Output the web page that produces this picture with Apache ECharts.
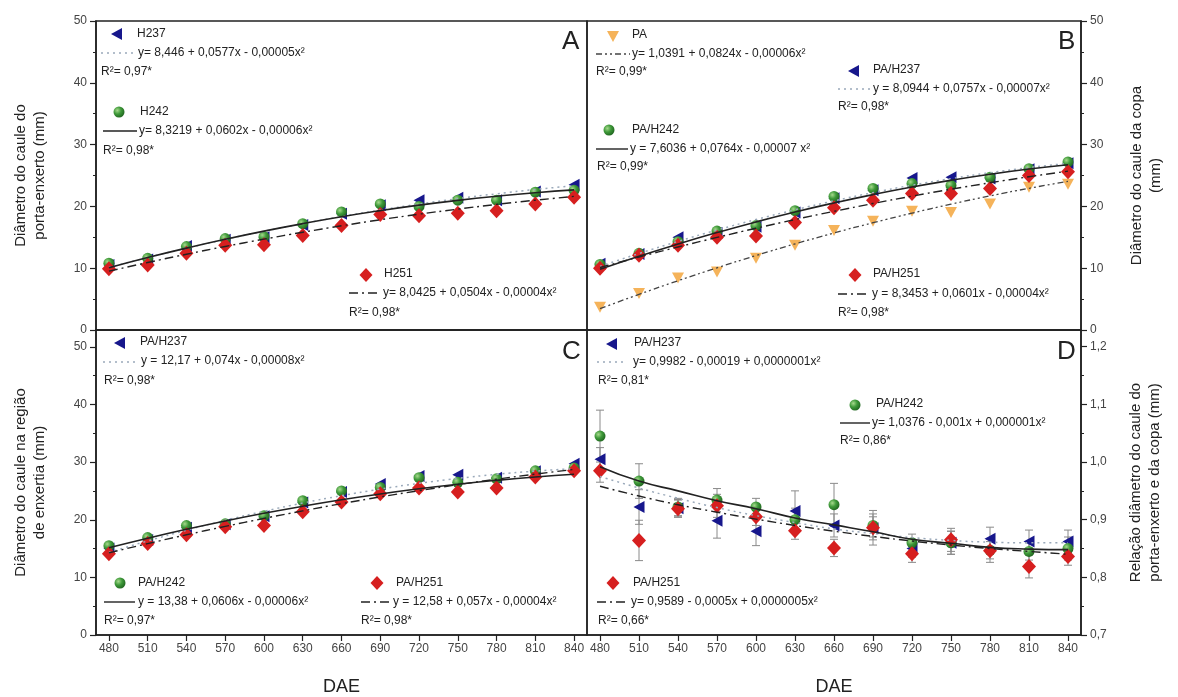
<!DOCTYPE html>
<html><head><meta charset="utf-8">
<script src="https://cdn.jsdelivr.net/npm/echarts@6/dist/echarts.min.js"></script>
<style>html,body{margin:0;padding:0;background:#fff}#c{width:1178px;height:697px}</style>
</head><body><div id="c"></div>
<script>
// ---------- data ----------
const dae = [480,510,540,570,600,630,660,690,720,750,780,810,840];

// Panel A (porta-enxerto)
const aH237 = [10.5,11.4,13.6,14.6,15.0,17.0,18.8,20.2,21.0,21.4,21.0,22.4,23.5];
const aH242 = [10.8,11.6,13.5,14.8,15.1,17.2,19.1,20.4,20.0,21.0,21.0,22.3,22.6];
const aH251 = [9.9,10.5,12.4,13.7,13.8,15.3,16.9,18.7,18.5,18.9,19.3,20.4,21.5];
const aFit237 = [10.13,11.73,13.23,14.65,15.98,17.21,18.36,19.41,20.38,21.26,22.04,22.74,23.34];
const aFit242 = [10.07,11.72,13.25,14.68,16.00,17.21,18.32,19.31,20.20,20.98,21.65,22.22,22.67];
const aFit251 = [9.52,10.92,12.26,13.52,14.70,15.82,16.86,17.84,18.74,19.56,20.32,21.00,21.62];

// Panel B (copa)
const bPA    = [3.7,5.9,8.4,9.4,11.6,13.7,16.1,17.6,19.2,19.0,20.4,23.1,23.6];
const bH237  = [10.7,12.3,15.0,15.7,16.7,19.0,21.3,22.6,24.6,24.7,24.5,26.0,27.0];
const bH242  = [10.6,12.4,14.3,16.0,16.9,19.3,21.6,22.9,23.7,23.4,24.7,26.1,27.2];
const bH251  = [10.0,12.1,13.7,15.0,15.2,17.4,19.8,21.0,22.1,22.1,22.9,25.0,25.6];
const bFitPA  = [3.46,5.77,7.97,10.06,12.05,13.93,15.70,17.36,18.91,20.36,21.70,22.93,24.05];
const bFit237 = [10.30,12.38,14.34,16.17,17.87,19.45,20.90,22.23,23.43,24.50,25.45,26.27,26.97];
const bFit242 = [9.83,11.94,13.91,15.76,17.49,19.09,20.56,21.91,23.13,24.22,25.19,26.04,26.75];
const bFit251 = [10.11,11.81,13.43,14.98,16.46,17.87,19.20,20.47,21.66,22.78,23.82,24.80,25.70];

// Panel C (região de enxertia)
const cH237 = [15.0,16.5,18.6,19.2,20.6,23.0,24.8,26.2,27.6,27.8,27.3,28.4,29.7];
const cH242 = [15.5,16.9,19.0,19.3,20.7,23.3,25.0,25.6,27.3,26.5,27.1,28.5,29.0];
const cH251 = [14.1,15.9,17.4,18.8,19.0,21.4,23.1,24.5,25.5,24.8,25.5,27.4,28.5];
const cFit237 = [14.32,16.32,18.18,19.90,21.47,22.90,24.18,25.32,26.32,27.17,27.88,28.44,28.86];
const cFit242 = [15.14,16.80,18.35,19.79,21.12,22.34,23.46,24.47,25.37,26.16,26.84,27.42,27.89];
const cFit251 = [14.25,15.86,17.39,18.84,20.23,21.54,22.79,23.96,25.05,26.08,27.03,27.92,28.73];

// Panel D (relação)
const dH237 = [1.005,0.922,0.920,0.898,0.880,0.915,0.890,0.885,0.850,0.860,0.867,0.862,0.862];
const dH242 = [1.045,0.967,0.922,0.934,0.922,0.900,0.926,0.890,0.860,0.860,0.847,0.845,0.850];
const dH251 = [0.985,0.864,0.919,0.924,0.905,0.881,0.851,0.886,0.841,0.865,0.846,0.819,0.836];
const dErr237 = [0.020,0.030,0.015,0.030,0.025,0.035,0.020,0.020,0.015,0.020,0.020,0.020,0.020];
const dErr242 = [0.045,0.030,0.015,0.020,0.015,0.020,0.037,0.020,0.015,0.020,0.015,0.015,0.020];
const dErr251 = [0.020,0.035,0.015,0.020,0.015,0.015,0.015,0.030,0.015,0.020,0.020,0.020,0.015];
const dFit237 = [0.975,0.955,0.937,0.921,0.907,0.895,0.884,0.876,0.869,0.864,0.861,0.860,0.860];
const dFit242 = [0.992,0.967,0.950,0.933,0.919,0.903,0.891,0.879,0.866,0.859,0.852,0.849,0.848];
const dFit251 = [0.958,0.941,0.926,0.913,0.901,0.890,0.880,0.871,0.863,0.856,0.850,0.845,0.840];

const yTicksMM = [0,10,20,30,40,50];
const yMinorMM = [5,15,25,35,45];
const yTicksR = [0.7,0.8,0.9,1.0,1.1,1.2];
const yMinorR = [0.75,0.85,0.95,1.05,1.15];

// ---------- styles ----------
const FONT = '"Liberation Sans", Arial, sans-serif';
const INK = '#222';
const C_BLUE = '#17178c', C_RED = '#d61f1f', C_ORANGE = '#f5b35a';
const greenFill = new echarts.graphic.RadialGradient(0.35,0.35,0.75,[
  {offset:0,color:'#a6d98c'},{offset:0.45,color:'#3f9a3a'},{offset:1,color:'#1b5e1b'}]);
const DOT = [2,4], DASHDOT = [9,4,2,4], DASHDOTDOT = [6,3,2,3,2,3];
const C_DOTLINE = '#9aa9ba';

const pts = a => dae.map((d,i)=>[d,a[i]]);
const ptsE = (a,e) => dae.map((d,i)=>[d,a[i],e[i]]);

const mk = {
  blue:   {symbol:'triangle', symbolRotate:90, symbolSize:[12,11], itemStyle:{color:C_BLUE, opacity:1}},
  green:  {symbol:'circle', symbolSize:11, itemStyle:{color:greenFill, opacity:1}},
  red:    {symbol:'diamond', symbolSize:[14,15], itemStyle:{color:C_RED, opacity:1}},
  orange: {symbol:'triangle', symbolRotate:180, symbolSize:[12,11], itemStyle:{color:C_ORANGE, opacity:1}}
};
function scat(g, y, data, m){
  return Object.assign({type:'scatter', xAxisIndex:g, yAxisIndex:y, data:pts(data), z:3, silent:true}, m);
}
function fit(g, y, data, color, type, width){
  return {type:'line', xAxisIndex:g, yAxisIndex:y, data:pts(data), smooth:true, showSymbol:false, z:4, silent:true,
    lineStyle:{color:color, width:width||1.4, type:type}};
}
function errs(g, y, data, e){
  return {type:'custom', xAxisIndex:g, yAxisIndex:y, data:ptsE(data,e), z:2, silent:true,
    renderItem:function(params, api){
      const x=api.value(0), v=api.value(1), er=api.value(2);
      const t=api.coord([x,v+er]), b=api.coord([x,v-er]);
      const st={stroke:'#8a8a8a', lineWidth:1};
      return {type:'group', children:[
        {type:'line', shape:{x1:t[0],y1:t[1],x2:b[0],y2:b[1]}, style:st},
        {type:'line', shape:{x1:t[0]-4,y1:t[1],x2:t[0]+4,y2:t[1]}, style:st},
        {type:'line', shape:{x1:b[0]-4,y1:b[1],x2:b[0]+4,y2:b[1]}, style:st}
      ]};
    }};
}

// ---------- axes ----------
const grids = [
  {left:96, top:21, width:491, height:309},
  {left:587, top:21, width:494, height:309},
  {left:96, top:330, width:491, height:307},
  {left:587, top:330, width:494, height:307}
].map(g=>Object.assign(g,{show:true, borderColor:INK, borderWidth:1.5, containLabel:false}));

function xAx(i, labels){
  return {gridIndex:i, type:'value', min:470, max:850, splitLine:{show:false},
    axisLine:{show:true, onZero:false, lineStyle:{color:INK, width:1.6}},
    axisTick:{show:labels, customValues:dae, inside:false, length:6, lineStyle:{color:INK, width:1.2}},
    axisLabel:{show:labels, customValues:dae, color:'#444', fontSize:12, fontFamily:FONT, margin:8},
    name: labels ? 'DAE' : '', nameLocation:'middle', nameGap:43,
    nameTextStyle:{fontSize:18, color:INK, fontFamily:FONT}};
}
const nameStyle = {fontSize:15, color:INK, fontFamily:FONT, lineHeight:19};
const yAxes = [
  {gridIndex:0, type:'value', min:0, max:50, interval:10, position:'left',
   axisLine:{show:true, onZero:false, lineStyle:{color:INK, width:1.6}},
   axisTick:{show:true, length:6, lineStyle:{color:INK, width:1.2}},
   minorTick:{show:true, splitNumber:2, length:3, lineStyle:{color:INK}},
   axisLabel:{color:'#444', fontSize:12, fontFamily:FONT, margin:9},
   splitLine:{show:false},
   name:'Diâmetro do caule do\nporta-enxerto (mm)', nameLocation:'middle', nameGap:47, nameRotate:90, nameTextStyle:nameStyle},
  {gridIndex:1, type:'value', min:0, max:50, interval:10, position:'right',
   axisLine:{show:true, onZero:false, lineStyle:{color:INK, width:1.6}},
   axisTick:{show:true, length:6, lineStyle:{color:INK, width:1.2}},
   minorTick:{show:true, splitNumber:2, length:3, lineStyle:{color:INK}},
   axisLabel:{color:'#444', fontSize:12, fontFamily:FONT, margin:9},
   splitLine:{show:false},
   name:'Diâmetro do caule da copa\n(mm)', nameLocation:'middle', nameGap:46, nameRotate:90, nameTextStyle:nameStyle},
  {gridIndex:2, type:'value', min:0, max:52.93, position:'left',
   axisLine:{show:true, onZero:false, lineStyle:{color:INK, width:1.6}},
   axisTick:{show:true, customValues:yTicksMM, length:6, lineStyle:{color:INK, width:1.2}},
   axisLabel:{customValues:yTicksMM, color:'#444', fontSize:12, fontFamily:FONT, margin:9},
   splitLine:{show:false},
   name:'Diâmetro do caule na região\nde enxertia (mm)', nameLocation:'middle', nameGap:47, nameRotate:90, nameTextStyle:nameStyle},
  {gridIndex:2, type:'value', min:0, max:52.93, position:'left',
   axisLine:{show:false}, axisLabel:{show:false}, splitLine:{show:false},
   axisTick:{show:true, customValues:yMinorMM, length:3, lineStyle:{color:INK}}},
  {gridIndex:3, type:'value', min:0.7, max:1.229, position:'right',
   axisLine:{show:true, onZero:false, lineStyle:{color:INK, width:1.6}},
   axisTick:{show:true, customValues:yTicksR, length:6, lineStyle:{color:INK, width:1.2}},
   axisLabel:{customValues:yTicksR, color:'#444', fontSize:12, fontFamily:FONT, margin:9,
     formatter:v=>v.toFixed(1).replace('.',',')},
   splitLine:{show:false},
   name:'Relação diâmetro do caule do\nporta-enxerto e da copa (mm)', nameLocation:'middle', nameGap:45, nameRotate:90, nameTextStyle:nameStyle},
  {gridIndex:3, type:'value', min:0.7, max:1.229, position:'right',
   axisLine:{show:false}, axisLabel:{show:false}, splitLine:{show:false},
   axisTick:{show:true, customValues:yMinorR, length:3, lineStyle:{color:INK}}}
];

// ---------- legend / annotation graphics ----------
const G = [];
function T(x,y,s,size){ G.push({type:'text', x:x, y:y, silent:true, style:{text:s, fill:INK, fontSize:size||12, fontFamily:FONT,
  align:'left', verticalAlign:'middle', textAlign:'left', textVerticalAlign:'middle'}}); }
function L(x1,x2,y,color,dash,w){ G.push({type:'line', silent:true, shape:{x1:x1,y1:y,x2:x2,y2:y}, style:{stroke:color, lineWidth:w||1.4, lineDash:dash||null}}); }
function triL(cx,cy){ G.push({type:'polygon', silent:true, shape:{points:[[cx-6,cy],[cx+5,cy-6],[cx+5,cy+6]]}, style:{fill:C_BLUE}}); }
function triD(cx,cy){ G.push({type:'polygon', silent:true, shape:{points:[[cx-6,cy-5],[cx+6,cy-5],[cx,cy+6]]}, style:{fill:C_ORANGE}}); }
function dia(cx,cy){ G.push({type:'polygon', silent:true, shape:{points:[[cx,cy-7],[cx+6.5,cy],[cx,cy+7],[cx-6.5,cy]]}, style:{fill:C_RED}}); }
function circ(cx,cy){ G.push({type:'circle', silent:true, shape:{cx:cx,cy:cy,r:5.5}, style:{fill:greenFill}}); }

// Panel A
triL(117,34); T(137,34,'H237');
L(101,135,53,C_DOTLINE,DOT); T(138,53,'y= 8,446 + 0,0577x - 0,00005x²');
T(101,72,'R²= 0,97*');
circ(119,112); T(140,112,'H242');
L(103,137,131,INK,null); T(139,131,'y= 8,3219 + 0,0602x - 0,00006x²');
T(103,151,'R²= 0,98*');
dia(366,275); T(384,274,'H251');
L(349,381,293,INK,DASHDOT); T(383,293,'y= 8,0425 + 0,0504x - 0,00004x²');
T(349,313,'R²= 0,98*');
T(562,42,'A',26);

// Panel B
triD(613,36); T(632,35,'PA');
L(596,630,54,'#444',DASHDOTDOT); T(632,54,'y= 1,0391 + 0,0824x - 0,00006x²');
T(596,72,'R²= 0,99*');
triL(854,71); T(873,70,'PA/H237');
L(838,870,89,C_DOTLINE,DOT); T(873,89,'y = 8,0944 + 0,0757x - 0,00007x²');
T(838,107,'R²= 0,98*');
circ(609,130); T(632,130,'PA/H242');
L(596,628,149,INK,null); T(630,149,'y = 7,6036 + 0,0764x - 0,00007 x²');
T(597,167,'R²= 0,99*');
dia(855,275); T(873,274,'PA/H251');
L(838,870,294,INK,DASHDOT); T(872,294,'y = 8,3453 + 0,0601x - 0,00004x²');
T(838,313,'R²= 0,98*');
T(1058,42,'B',26);

// Panel C
triL(120,343); T(140,342,'PA/H237');
L(103,135,362,C_DOTLINE,DOT); T(141,361,'y = 12,17 + 0,074x - 0,00008x²');
T(104,381,'R²= 0,98*');
circ(120,583); T(138,583,'PA/H242');
L(104,135,602,INK,null); T(138,602,'y = 13,38 + 0,0606x - 0,00006x²');
T(104,621,'R²= 0,97*');
dia(377,583); T(396,583,'PA/H251');
L(361,392,602,INK,DASHDOT); T(393,602,'y = 12,58 + 0,057x - 0,00004x²');
T(361,621,'R²= 0,98*');
T(562,352,'C',26);

// Panel D
triL(612,344); T(634,343,'PA/H237');
L(597,627,362,C_DOTLINE,DOT); T(633,362,'y= 0,9982 - 0,00019 + 0,0000001x²');
T(598,381,'R²= 0,81*');
circ(855,405); T(876,404,'PA/H242');
L(840,870,423,INK,null); T(872,423,'y= 1,0376 - 0,001x + 0,000001x²');
T(840,441,'R²= 0,86*');
dia(613,583); T(633,583,'PA/H251');
L(597,628,602,INK,DASHDOT); T(631,602,'y= 0,9589 - 0,0005x + 0,0000005x²');
T(598,621,'R²= 0,66*');
T(1057,352,'D',26);

// ---------- series ----------
const series = [
  // A
  scat(0,0,aH237,mk.blue), scat(0,0,aH242,mk.green), scat(0,0,aH251,mk.red),
  fit(0,0,aFit237,C_DOTLINE,DOT,1.5), fit(0,0,aFit242,INK,'solid',1.6), fit(0,0,aFit251,INK,DASHDOT,1.4),
  // B
  scat(1,1,bPA,mk.orange), scat(1,1,bH237,mk.blue), scat(1,1,bH242,mk.green), scat(1,1,bH251,mk.red),
  fit(1,1,bFitPA,'#444',DASHDOTDOT,1.3), fit(1,1,bFit237,C_DOTLINE,DOT,1.5), fit(1,1,bFit242,INK,'solid',1.6), fit(1,1,bFit251,INK,DASHDOT,1.4),
  // C
  scat(2,2,cH237,mk.blue), scat(2,2,cH242,mk.green), scat(2,2,cH251,mk.red),
  fit(2,2,cFit237,C_DOTLINE,DOT,1.5), fit(2,2,cFit242,INK,'solid',1.6), fit(2,2,cFit251,INK,DASHDOT,1.4),
  // D
  errs(3,4,dH237,dErr237), errs(3,4,dH242,dErr242), errs(3,4,dH251,dErr251),
  scat(3,4,dH237,mk.blue), scat(3,4,dH242,mk.green), scat(3,4,dH251,mk.red),
  fit(3,4,dFit237,C_DOTLINE,DOT,1.5), fit(3,4,dFit242,INK,'solid',1.6), fit(3,4,dFit251,INK,DASHDOT,1.4)
];

const chart = echarts.init(document.getElementById('c'), null, {renderer:'canvas'});
chart.setOption({
  animation:false,
  backgroundColor:'#fff',
  textStyle:{fontFamily:FONT},
  grid:grids,
  xAxis:[xAx(0,false), xAx(1,false), xAx(2,true), xAx(3,true)],
  yAxis:yAxes,
  series:series,
  graphic:G
});
</script>
</body></html>
